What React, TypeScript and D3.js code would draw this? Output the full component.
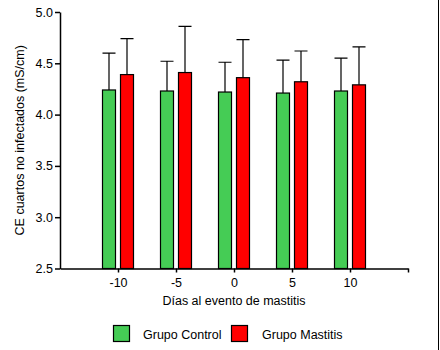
import React, { useEffect, useRef } from 'react';
import * as d3 from 'd3';

const days = [-10, -5, 0, 5, 10];
const controlMean = [4.24, 4.23, 4.22, 4.21, 4.23];
const controlUpper = [4.6, 4.52, 4.51, 4.53, 4.55];
const mastitisMean = [4.39, 4.41, 4.36, 4.32, 4.29];
const mastitisUpper = [4.74, 4.86, 4.73, 4.62, 4.66];
const yTicks = [2.5, 3.0, 3.5, 4.0, 4.5, 5.0];

const W = 440, H = 350;
const FONT = '"Liberation Sans", Arial, sans-serif';

export default function App() {
  const ref = useRef<SVGSVGElement>(null);

  useEffect(() => {
    const svg = d3.select(ref.current);
    svg.selectAll('*').remove();

    const x = d3.scaleLinear().domain([-15, 15]).range([60, 408]);
    const y = d3.scaleLinear().domain([2.5, 5.0]).range([268.5, 12]);
    const barW = 13;

    const series = [
      { name: 'Grupo Control', mean: controlMean, upper: controlUpper, color: '#45cc55', off: -15.5 },
      { name: 'Grupo Mastitis', mean: mastitisMean, upper: mastitisUpper, color: '#ff0000', off: 2.5 },
    ];

    svg.append('rect').attr('width', W).attr('height', H).attr('fill', 'white');
    // right border
    svg.append('line')
      .attr('x1', 438.5).attr('x2', 438.5).attr('y1', 0).attr('y2', H)
      .attr('stroke', 'black').attr('stroke-width', 1);

    series.forEach(s => {
      const g = svg.append('g');
      // error bars (upper only)
      g.selectAll('path.err')
        .data(days)
        .enter()
        .append('path')
        .attr('d', (d, i) => {
          const cx = x(d) + s.off + barW / 2;
          const top = y(s.upper[i]);
          return `M${cx},${y(s.mean[i])}V${top}M${cx - barW / 2},${top}H${cx + barW / 2}`;
        })
        .attr('fill', 'none')
        .attr('stroke', 'black')
        .attr('stroke-width', 1.2);
      g.selectAll('rect')
        .data(days)
        .enter()
        .append('rect')
        .attr('x', d => x(d) + s.off)
        .attr('y', (d, i) => y(s.mean[i]))
        .attr('width', barW)
        .attr('height', (d, i) => y(2.5) - y(s.mean[i]))
        .attr('fill', s.color)
        .attr('stroke', 'black')
        .attr('stroke-width', 1.2);
    });

    const yAxis = svg.append('g')
      .attr('transform', 'translate(60,0)')
      .call(d3.axisLeft(y).tickValues(yTicks).tickFormat(d3.format('.1f')).tickSize(5).tickSizeOuter(0));
    const xAxis = svg.append('g')
      .attr('transform', `translate(0,${y(2.5)})`)
      .call(d3.axisBottom(x).tickValues([...days, 15]).tickFormat(d => (+d === 15 ? '' : String(d))).tickSize(4).tickSizeOuter(0));
    [yAxis, xAxis].forEach(a => {
      a.selectAll('path, line').attr('stroke', 'black').attr('stroke-width', 1.5);
      a.selectAll('text').attr('font-family', FONT).attr('font-size', 12.5).attr('fill', 'black');
    });
    yAxis.selectAll('text').attr('x', -7);
    xAxis.selectAll('text').attr('y', 9.5);

    svg.append('text')
      .attr('x', x(0)).attr('y', 305)
      .attr('text-anchor', 'middle')
      .attr('font-family', FONT).attr('font-size', 12.5)
      .text('Días al evento de mastitis');

    svg.append('text')
      .attr('transform', `translate(24,${(y(2.5) + y(5)) / 2}) rotate(-90)`)
      .attr('text-anchor', 'middle')
      .attr('font-family', FONT).attr('font-size', 12.5)
      .text('CE cuartos no infectados (mS/cm)');

    const legend = [
      { ...series[0], lx: 113.5, tx: 143 },
      { ...series[1], lx: 231.5, tx: 262 },
    ];
    const lg = svg.append('g').selectAll('g').data(legend).enter().append('g');
    lg.append('rect')
      .attr('x', d => d.lx).attr('y', 325.5)
      .attr('width', 16).attr('height', 16)
      .attr('fill', d => d.color)
      .attr('stroke', 'black').attr('stroke-width', 1.2);
    lg.append('text')
      .attr('x', d => d.tx).attr('y', 338.5)
      .attr('font-family', FONT).attr('font-size', 12.5)
      .text(d => d.name);
  }, []);

  return (
    <svg ref={ref} width={W} height={H} style={{ position: 'absolute', left: 0, top: 0 }} />
  );
}
